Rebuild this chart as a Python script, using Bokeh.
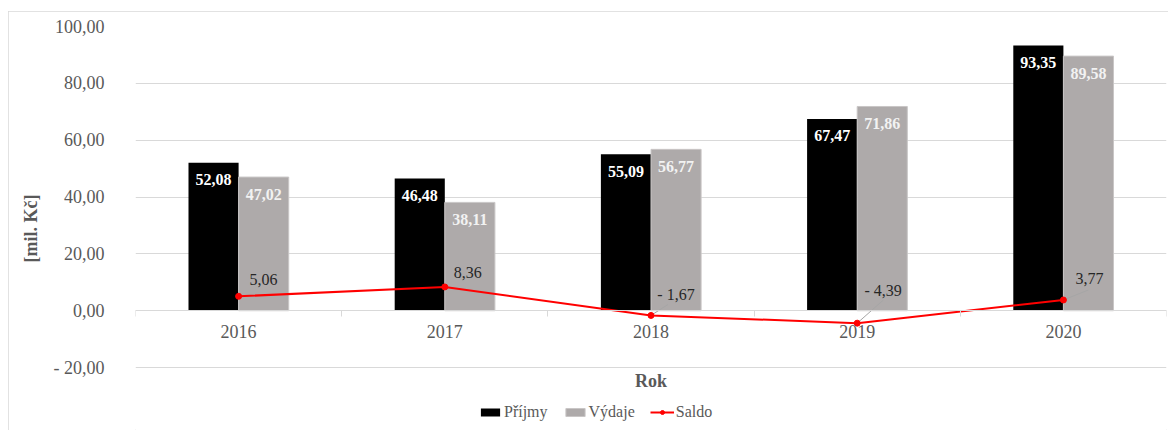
from bokeh.plotting import figure
from bokeh.models import (Range1d, FixedTicker, Legend, LegendItem, Label,
                          ColumnDataSource)
from bokeh.transform import dodge
from bokeh.embed import file_html
from bokeh.resources import INLINE
from bokeh.core.properties import value

# ---- data ----
years = ["2016", "2017", "2018", "2019", "2020"]
prijmy = [52.08, 46.48, 55.09, 67.47, 93.35]
vydaje = [47.02, 38.11, 56.77, 71.86, 89.58]
saldo = [5.06, 8.36, -1.67, -4.39, 3.77]
y_ticks = [-20, 0, 20, 40, 60, 80, 100]

# ---- styling / layout constants ----
FONT = "'Liberation Serif', 'Times New Roman', serif"
GREY_TXT = "#595959"
GRID = "#d9d9d9"
C_PRIJMY = "#000000"
C_VYDAJE = "#aeaaaa"
C_SALDO = "#ff0000"
W, H = 1160, 419
ML, MR, MT, MB = 127, 2, 15, 0
Y_MIN, Y_MAX = -42.15, 100
BAR_W = 0.243
PX_X = (W - ML - MR) / len(years)
PX_Y = (H - MT - MB) / (Y_MAX - Y_MIN)
# saldo label offsets in pixels (right, up) and leader-line ends
lab_dx = [25, 23, 25, 26, 26]
lab_dy = [17, 14, 21, 33, 21]
leader = [None, None, (17, 11), (26, 23), (25, 10)]


def fmt(v):
    s = f"{abs(v):.2f}".replace(".", ",")
    return ("- " + s) if v < 0 else s


xc = [i + 0.5 for i in range(len(years))]

p = figure(width=W, height=H, output_backend="svg", toolbar_location=None,
           x_range=Range1d(0, len(years)), y_range=Range1d(Y_MIN, Y_MAX),
           min_border_left=ML, min_border_right=MR, min_border_top=MT,
           min_border_bottom=MB)
p.outline_line_color = None
p.background_fill_color = "white"
p.border_fill_color = "white"
p.styles = {"margin-left": "8px", "margin-top": "11px",
            "outline": "1px solid #d9d9d9", "outline-offset": "-1px"}

# axes
yax = p.yaxis[0]
yax.ticker = FixedTicker(ticks=y_ticks)
yax.major_label_overrides = {t: fmt(t) for t in y_ticks}
yax.axis_line_color = None
yax.major_tick_line_color = None
yax.minor_tick_line_color = None
yax.major_tick_out = 0
yax.major_label_standoff = 31
yax.major_label_text_font = FONT
yax.major_label_text_font_size = "18px"
yax.major_label_text_color = GREY_TXT
yax.axis_label = "[mil. Kč]"
yax.axis_label_text_font = FONT
yax.axis_label_text_font_size = "18px"
yax.axis_label_text_font_style = "bold"
yax.axis_label_text_color = GREY_TXT
yax.axis_label_standoff = 10

xax = p.xaxis[0]
xax.fixed_location = 0
xax.ticker = FixedTicker(ticks=xc, minor_ticks=list(range(len(years) + 1)))
xax.major_label_overrides = {x: y for x, y in zip(xc, years)}
xax.axis_line_color = GRID
xax.major_tick_line_color = None
xax.major_tick_out = 0
xax.major_tick_in = 0
xax.minor_tick_line_color = GRID
xax.minor_tick_out = 6
xax.minor_tick_in = 0
xax.major_label_standoff = 8
xax.major_label_text_font = FONT
xax.major_label_text_font_size = "18px"
xax.major_label_text_color = GREY_TXT

p.xgrid.visible = False
p.ygrid.ticker = FixedTicker(ticks=y_ticks)
p.ygrid.grid_line_color = GRID

src = ColumnDataSource(dict(
    x=xc, prijmy=prijmy, vydaje=vydaje, saldo=saldo,
    prijmy_lbl=[fmt(v) for v in prijmy],
    vydaje_lbl=[fmt(v) for v in vydaje],
    saldo_lbl=[fmt(v) for v in saldo],
    dx=lab_dx, dy=[-d for d in lab_dy],
))

# bars
r1 = p.vbar(x=dodge("x", -BAR_W / 2), top="prijmy", bottom=0, width=BAR_W,
            source=src, fill_color=C_PRIJMY, line_color=None)
r2 = p.vbar(x=dodge("x", BAR_W / 2), top="vydaje", bottom=0, width=BAR_W,
            source=src, fill_color=C_VYDAJE, line_color="#c9c6c6",
            line_width=1)

p.text(x=dodge("x", -BAR_W / 2), y="prijmy", text="prijmy_lbl", source=src,
       text_align="center", text_baseline="middle", y_offset=17,
       text_font=value(FONT), text_font_size="16px", text_font_style="bold",
       text_color="white")
p.text(x=dodge("x", BAR_W / 2), y="vydaje", text="vydaje_lbl", source=src,
       text_align="center", text_baseline="middle", y_offset=17,
       text_font=value(FONT), text_font_size="16px", text_font_style="bold",
       text_color="#f2f2f2")

# leader lines
lx0, ly0, lx1, ly1 = [], [], [], []
for x, s, ld in zip(xc, saldo, leader):
    if ld is None:
        continue
    lx0.append(x); ly0.append(s)
    lx1.append(x + ld[0] / PX_X); ly1.append(s + ld[1] / PX_Y)
p.segment(x0=lx0, y0=ly0, x1=lx1, y1=ly1, line_color="#a6a6a6", line_width=1)

# saldo line
r3 = p.line(x="x", y="saldo", source=src, line_color=C_SALDO, line_width=2)
r4 = p.scatter(x="x", y="saldo", source=src, marker="circle", size=6,
               fill_color=C_SALDO, line_color=C_SALDO)
p.text(x="x", y="saldo", text="saldo_lbl", source=src, x_offset="dx",
       y_offset="dy", text_align="center", text_baseline="middle",
       text_font=value(FONT), text_font_size="16px", text_color="#262626")

# x axis title
p.add_layout(Label(x=len(years) / 2, y=-24.6, text="Rok", text_align="center",
                   text_baseline="middle", text_font=FONT,
                   text_font_size="18px", text_font_style="bold",
                   text_color=GREY_TXT))

legend = Legend(items=[LegendItem(label="Příjmy", renderers=[r1]),
                       LegendItem(label="Výdaje", renderers=[r2]),
                       LegendItem(label="Saldo", renderers=[r3, r4])],
                orientation="horizontal", location=(343, 9),
                border_line_color=None, background_fill_alpha=0,
                padding=0, margin=0, spacing=15, label_standoff=2,
                glyph_width=24, glyph_height=10,
                label_text_font=FONT, label_text_font_size="16px",
                label_text_color=GREY_TXT)
p.add_layout(legend, "center")

open("out.html", "w").write(file_html(p, INLINE))
